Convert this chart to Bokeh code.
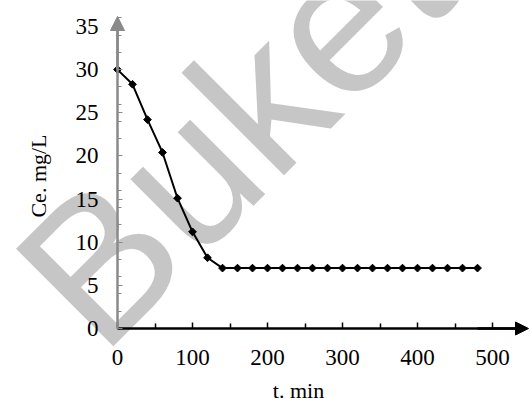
import math
from bokeh.plotting import figure
from bokeh.models import Range1d, FixedTicker, Label, Arrow, NormalHead, LinearAxis
from bokeh.embed import file_html
from bokeh.resources import INLINE

# ---- data ----
time_min = [0, 20, 40, 60, 80, 100, 120, 140, 160, 180, 200, 220, 240, 260,
            280, 300, 320, 340, 360, 380, 400, 420, 440, 460, 480]
ce_mg_l = [30.0, 28.3, 24.2, 20.4, 15.1, 11.2, 8.2, 7.0, 7.0, 7.0, 7.0, 7.0,
           7.0, 7.0, 7.0, 7.0, 7.0, 7.0, 7.0, 7.0, 7.0, 7.0, 7.0, 7.0, 7.0]
x_ticks = [0, 100, 200, 300, 400, 500]
x_minor = [50, 150, 250, 350, 450]
y_ticks = [0, 5, 10, 15, 20, 25, 30, 35]
y_minor = [0, 2, 4, 6, 8, 10, 12, 14, 16, 18, 20, 22, 24, 26, 28, 30, 32, 34, 36]
x_title = "t. min"
y_title = "Ce. mg/L"
watermark = "Buket"

# ---- layout (pixel geometry of the page) ----
W, H = 530, 401
X0_PX, Y0_PX = 117, 328      # where (0, 0) sits on the page
X_PX_PER_UNIT = 0.75
Y_PX_PER_UNIT = 8.63

def dx(px):
    return (px - X0_PX) / X_PX_PER_UNIT

def dy(py):
    return (Y0_PX - py) / Y_PX_PER_UNIT

FONT = "Liberation Serif"
GRAY = "#8a8a8a"

p = figure(width=W, height=H, output_backend="svg", toolbar_location=None,
           x_range=Range1d(dx(0), dx(W)), y_range=Range1d(dy(H), dy(0)),
           x_axis_location=None, y_axis_location=None,
           min_border=0)
p.min_border_left = 0
p.min_border_right = 0
p.min_border_top = 0
p.min_border_bottom = 0
p.outline_line_color = None
p.grid.visible = False
p.background_fill_color = "white"
p.border_fill_color = "white"

# watermark (underneath everything)
p.add_layout(Label(text=watermark, x=dx(52), y=dy(308), angle=45, angle_units="deg",
                   text_font="Liberation Sans", text_font_size="200px",
                   text_color="#c6c6c6", text_align="left",
                   text_baseline="alphabetic", level="underlay"))

# x axis (fixed at y = 0)
xa = LinearAxis(fixed_location=0, bounds=(0, dx(520)))
xa.ticker = FixedTicker(ticks=x_ticks, minor_ticks=x_minor)
xa.axis_line_color = "black"
xa.axis_line_width = 2.5
xa.major_tick_line_color = "black"
xa.major_tick_line_width = 1.5
xa.major_tick_in = 6
xa.major_tick_out = 0
xa.minor_tick_line_color = "black"
xa.minor_tick_line_width = 1.5
xa.minor_tick_in = 5
xa.minor_tick_out = 0
xa.major_label_text_font = FONT
xa.major_label_text_font_size = "23px"
xa.major_label_text_color = "black"
xa.major_label_standoff = 21
p.add_layout(xa, "below")

# y axis (fixed at x = 0)
ya = LinearAxis(fixed_location=0, bounds=(0, dy(28)))
ya.ticker = FixedTicker(ticks=y_ticks, minor_ticks=y_minor)
ya.axis_line_color = GRAY
ya.axis_line_width = 2.5
ya.major_tick_line_color = GRAY
ya.major_tick_line_width = 1.2
ya.major_tick_in = 5
ya.major_tick_out = 0
ya.minor_tick_line_color = GRAY
ya.minor_tick_line_width = 1.2
ya.minor_tick_in = 4
ya.minor_tick_out = 0
ya.major_label_text_font = FONT
ya.major_label_text_font_size = "23px"
ya.major_label_text_color = "black"
ya.major_label_standoff = 19
p.add_layout(ya, "left")

# axis arrows
p.add_layout(Arrow(end=NormalHead(size=13, fill_color="black", line_color="black", line_width=1),
                   x_start=480, y_start=0, x_end=dx(528), y_end=0,
                   line_color="black", line_width=2.5))
p.add_layout(Arrow(end=NormalHead(size=14, fill_color=GRAY, line_color=GRAY, line_width=1),
                   x_start=0, y_start=30, x_end=0, y_end=dy(16),
                   line_color=GRAY, line_width=2.5))

# data
p.line(time_min, ce_mg_l, line_color="black", line_width=2)
p.scatter(time_min, ce_mg_l, marker="square", angle=math.pi / 4, size=5.5,
          fill_color="black", line_color="black")

# axis titles
p.add_layout(Label(text=x_title, x=dx(298), y=dy(390), text_font=FONT,
                   text_font_size="22px", text_color="black",
                   text_align="center", text_baseline="alphabetic"))
p.add_layout(Label(text=y_title, x=dx(38), y=dy(175.5), angle=90, angle_units="deg",
                   text_font=FONT, text_font_size="22px", text_color="black",
                   text_align="center", text_baseline="middle"))

open("out.html", "w").write(file_html(p, INLINE))
